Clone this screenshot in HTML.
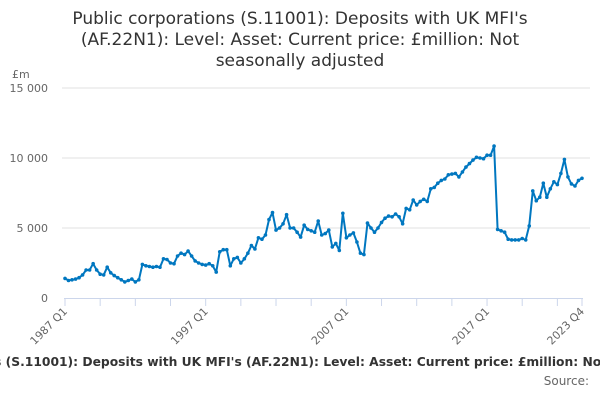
<!DOCTYPE html>
<html><head><meta charset="utf-8"><style>
body{margin:0;width:600px;height:400px;overflow:hidden;background:#fff;font-family:"Liberation Sans","DejaVu Sans",sans-serif;}
</style></head><body>
<svg width="600" height="400" xmlns="http://www.w3.org/2000/svg" style="font-family:'DejaVu Sans','Liberation Sans',sans-serif">
<g font-size="17" fill="#333" text-anchor="middle">
<text x="300" y="24">Public corporations (S.11001): Deposits with UK MFI's</text>
<text x="300" y="45">(AF.22N1): Level: Asset: Current price: £million: Not</text>
<text x="300" y="66">seasonally adjusted</text>
</g>
<text x="12" y="78" font-size="11" fill="#666">£m</text>
<g id="grid"></g><g id="yt"></g><g id="xt"></g><g id="series"></g>
<text x="308" y="366" font-size="12.3" font-weight="bold" fill="#333" text-anchor="middle" style="white-space:pre">Public corporations (S.11001): Deposits with UK MFI's (AF.22N1): Level: Asset: Current price: £million: Not seasonally adjusted</text>
<text x="589" y="385" font-size="12" fill="#666" text-anchor="end">Source:</text>
</svg>
<script>
const yTicks=[0,5000,10000,15000];
const yTickLabels=["0","5 000","10 000","15 000"];
const xTickLabels=["1987 Q1","1997 Q1","2007 Q1","2017 Q1","2023 Q4"];
const xTickIdx=[0,40,80,120,147];
const values=[1400,1250,1300,1350,1450,1650,2000,2000,2450,2000,1700,1650,2200,1800,1600,1450,1300,1150,1250,1350,1150,1300,2400,2300,2250,2200,2250,2200,2800,2750,2500,2450,3000,3200,3100,3350,3000,2650,2500,2400,2350,2450,2300,1850,3300,3450,3450,2300,2800,2900,2500,2800,3200,3750,3500,4300,4200,4500,5600,6100,4850,5000,5300,5950,5000,5000,4700,4350,5200,4900,4800,4700,5500,4500,4600,4850,3650,3900,3400,6050,4300,4500,4650,4000,3200,3100,5350,5000,4700,5000,5400,5700,5850,5800,6000,5800,5300,6400,6300,7000,6650,6900,7050,6900,7800,7900,8200,8400,8500,8800,8850,8900,8650,9000,9350,9600,9850,10050,10000,9950,10200,10200,10850,4900,4800,4700,4200,4150,4150,4150,4250,4150,5150,7650,6950,7200,8200,7200,7800,8300,8100,8900,9900,8650,8150,8000,8400,8550];
const NS="http://www.w3.org/2000/svg";
const x0=65,x1=582,y0=298,y15=88;
const xs=i=>x0+(x1-x0)*i/(values.length-1);
const ys=v=>y0-(y0-y15)*v/15000;
function mk(t,a,p){const e=document.createElementNS(NS,t);for(const k in a)e.setAttribute(k,a[k]);document.getElementById(p).appendChild(e);return e;}
yTicks.forEach((v,i)=>{
 if(v>0){const g=mk('line',{x1:62,x2:590,y1:ys(v),y2:ys(v),stroke:'#e0e0e0','stroke-width':1},'grid');
 
 }
 const t=mk('text',{x:48,y:ys(v)+4,'font-size':11,fill:'#666','text-anchor':'end'},'yt');
 t.textContent=yTickLabels[i];
 
 
});
const ax=mk('line',{x1:x0-1,x2:x1+1,y1:y0+0.5,y2:y0+0.5,stroke:'#ccd6eb','stroke-width':1},'xt');


for(let i=0;i<values.length;i+=10){const tk=mk('line',{x1:xs(i),x2:xs(i),y1:y0,y2:y0+8,stroke:'#ccd6eb'},'xt');
 
 }
const tl=mk('line',{x1:xs(147),x2:xs(147),y1:y0,y2:y0+8,stroke:'#ccd6eb'},'xt');


xTickIdx.forEach((q,i)=>{const x=xs(q);
 const t=mk('text',{x:x+3,y:y0+14,'font-size':11,fill:'#666','text-anchor':'end',transform:`rotate(-45 ${x+3} ${y0+14})`},'xt');
 t.textContent=xTickLabels[i];
 
 
});
const pts=values.map((v,i)=>xs(i).toFixed(1)+','+ys(v).toFixed(1)).join(' ');
const pl=mk('polyline',{points:pts,fill:'none',stroke:'#0077c0','stroke-width':2,'stroke-linejoin':'round'},'series');


values.forEach((v,i)=>{const c=mk('circle',{cx:xs(i),cy:ys(v),r:1.8,fill:'#0077c0'},'series');
 
 });
</script>
</body></html>
